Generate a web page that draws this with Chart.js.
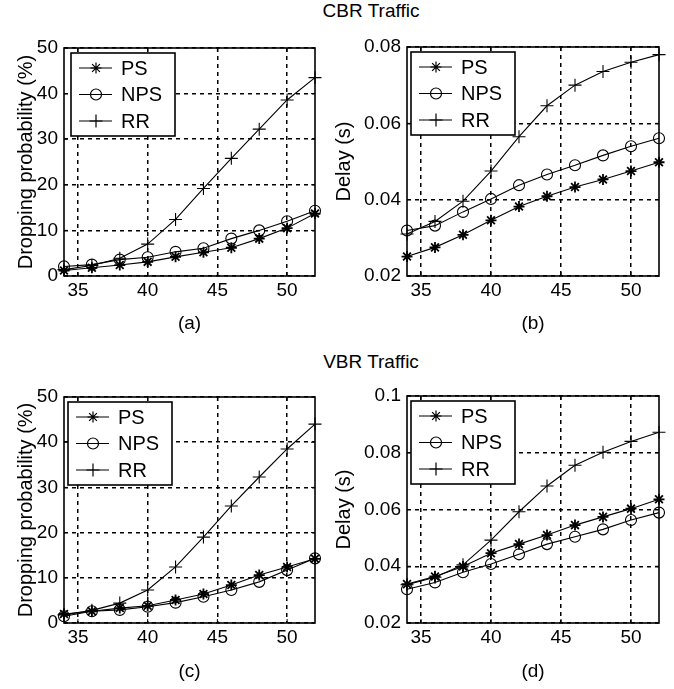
<!DOCTYPE html>
<html>
<head>
<meta charset="utf-8">
<script src="https://cdn.jsdelivr.net/npm/chart.js@4/dist/chart.umd.min.js"></script>
<style>
  body { margin: 0; background: #fff; }
  #wrap { position: relative; width: 674px; height: 689px; overflow: hidden; }
  #wrap canvas { position: absolute; left: 0; top: 0; }
  .group-title {
    position: absolute; left: 271px; width: 200px; text-align: center;
    font: 19px "Liberation Sans", Arial, sans-serif; color: #000;
  }
</style>
</head>
<body>
<div id="wrap">
  <div class="group-title" style="top:0px">CBR Traffic</div>
  <div class="group-title" style="top:351px">VBR Traffic</div>
  <canvas id="chartA" width="674" height="689"></canvas>
  <canvas id="chartB" width="674" height="689"></canvas>
  <canvas id="chartC" width="674" height="689"></canvas>
  <canvas id="chartD" width="674" height="689"></canvas>
</div>
<script>
const xValues = [34, 36, 38, 40, 42, 44, 46, 48, 50, 52];
const xTicks = [35, 40, 45, 50];
const seriesNames = ["PS", "NPS", "RR"];

const dropTicks = [0, 10, 20, 30, 40, 50];
const cbrDelayTicks = [0.02, 0.04, 0.06, 0.08];
const vbrDelayTicks = [0.02, 0.04, 0.06, 0.08, 0.1];

// CBR traffic
const cbrDropPS  = [1.2, 1.8, 2.4, 3.1, 4.2, 5.2, 6.2, 8.2, 10.5, 13.7];
const cbrDropNPS = [2.1, 2.5, 3.6, 4.1, 5.3, 6.1, 8.2, 10.0, 12.0, 14.3];
const cbrDropRR  = [1.4, 2.3, 3.9, 7.0, 12.4, 19.2, 25.8, 32.2, 38.6, 43.5];

const cbrDelayPS  = [0.0251, 0.0275, 0.0308, 0.0346, 0.0382, 0.0409, 0.0433, 0.0453, 0.0475, 0.0498];
const cbrDelayNPS = [0.0319, 0.0332, 0.0368, 0.0402, 0.0438, 0.0466, 0.0490, 0.0516, 0.0540, 0.0561];
const cbrDelayRR  = [0.0310, 0.0343, 0.0396, 0.0475, 0.0565, 0.0646, 0.0700, 0.0736, 0.0760, 0.0780];

// VBR traffic
const vbrDropPS  = [2.0, 2.6, 3.3, 3.8, 5.1, 6.4, 8.4, 10.6, 12.4, 14.2];
const vbrDropNPS = [1.5, 2.6, 2.9, 3.6, 4.5, 5.8, 7.3, 9.1, 11.7, 14.3];
const vbrDropRR  = [1.8, 2.8, 4.4, 7.3, 12.4, 19.0, 25.9, 32.3, 38.5, 44.0];

const vbrDelayPS  = [0.0337, 0.0364, 0.0399, 0.0446, 0.0478, 0.0510, 0.0545, 0.0574, 0.0603, 0.0636];
const vbrDelayNPS = [0.0319, 0.0343, 0.0379, 0.0408, 0.0442, 0.0478, 0.0504, 0.0530, 0.0563, 0.0589];
const vbrDelayRR  = [0.0335, 0.0361, 0.0405, 0.0492, 0.0592, 0.0683, 0.0756, 0.0802, 0.0840, 0.0872];

const FONT = '"Liberation Sans", Arial, sans-serif';
const markerStyles = ["star", "circle", "cross"];
const markerSizes = [5.5, 5.5, 6.5];

// axes box with inward tick marks, like matlab
const axesBox = {
  id: "axesBox",
  afterDatasetsDraw(chart) {
    const { ctx, chartArea: a, scales } = chart;
    ctx.save();
    ctx.strokeStyle = "#000";
    ctx.lineWidth = 1;
    ctx.beginPath();
    scales.x.ticks.forEach(t => {
      const px = scales.x.getPixelForValue(t.value);
      ctx.moveTo(px, a.bottom); ctx.lineTo(px, a.bottom - 4);
      ctx.moveTo(px, a.top); ctx.lineTo(px, a.top + 4);
    });
    scales.y.ticks.forEach(t => {
      const py = scales.y.getPixelForValue(t.value);
      ctx.moveTo(a.left, py); ctx.lineTo(a.left + 4, py);
      ctx.moveTo(a.right, py); ctx.lineTo(a.right - 4, py);
    });
    ctx.stroke();
    ctx.lineWidth = 1.6;
    ctx.strokeRect(a.left, a.top, a.right - a.left, a.bottom - a.top);
    ctx.restore();
  }
};

// legend box drawn inside the upper left corner of the plot
const boxLegend = {
  id: "boxLegend",
  afterDatasetsDraw(chart, args, opts) {
    const { ctx, chartArea: a } = chart;
    const x0 = a.left + opts.dx, y0 = a.top + opts.dy;
    const w = 104, h = 83;
    ctx.save();
    ctx.fillStyle = "#fff";
    ctx.fillRect(x0, y0, w, h);
    ctx.strokeStyle = "#000";
    ctx.lineWidth = 1.6;
    ctx.strokeRect(x0, y0, w, h);
    chart.data.datasets.forEach((ds, i) => {
      const y = y0 + 15 + i * 26.5;
      ctx.lineWidth = 1.2;
      ctx.beginPath();
      ctx.moveTo(x0 + 8, y);
      ctx.lineTo(x0 + 41, y);
      ctx.stroke();
      ctx.fillStyle = "rgba(0,0,0,0)";
      Chart.helpers.drawPoint(ctx, {
        pointStyle: ds.pointStyle,
        radius: ds.pointRadius,
        borderWidth: ds.pointBorderWidth
      }, x0 + 25, y);
      ctx.fillStyle = "#000";
      ctx.font = "20px " + FONT;
      ctx.textBaseline = "middle";
      ctx.fillText(ds.label, x0 + 50, y + 1);
    });
    ctx.restore();
  }
};

function makePanel(id, series, yTicks, yTitle, xTitle, box, legendPos) {
  const datasets = series.map((values, i) => ({
    label: seriesNames[i],
    data: xValues.map((x, j) => ({ x: x, y: values[j] })),
    borderColor: "#000",
    borderWidth: 1.1,
    backgroundColor: "rgba(0,0,0,0)",
    pointStyle: markerStyles[i],
    pointRadius: markerSizes[i],
    pointBorderWidth: i === 0 ? 1.8 : 1.1,
    pointBorderColor: "#000",
    pointBackgroundColor: "rgba(0,0,0,0)",
    tension: 0,
    fill: false,
    clip: false
  }));

  return new Chart(document.getElementById(id), {
    type: "line",
    data: { datasets: datasets },
    options: {
      responsive: false,
      animation: false,
      events: [],
      layout: {
        padding: { left: box.pl, top: box.top, right: 674 - box.right, bottom: 689 - box.bottom - 60 }
      },
      plugins: {
        legend: { display: false },
        tooltip: { enabled: false },
        boxLegend: legendPos
      },
      scales: {
        x: {
          type: "linear",
          min: xValues[0],
          max: xValues[xValues.length - 1],
          afterBuildTicks: s => { s.ticks = xTicks.map(v => ({ value: v })); },
          afterFit: s => { s.height = 60; },
          ticks: { color: "#000", font: { family: FONT, size: 19 }, padding: 3, maxRotation: 0 },
          grid: { color: "#000", lineWidth: 1.5, drawTicks: false },
          border: { display: false, dash: [4, 4] },
          title: { display: true, text: xTitle, color: "#000", font: { family: FONT, size: 19 }, padding: { top: 0, bottom: box.xtPad } }
        },
        y: {
          min: yTicks[0],
          max: yTicks[yTicks.length - 1],
          afterBuildTicks: s => { s.ticks = yTicks.map(v => ({ value: v })); },
          afterFit: s => { s.width = box.left - box.pl; },
          ticks: { color: "#000", font: { family: FONT, size: 19 }, padding: 6, callback: v => String(v) },
          grid: { color: "#000", lineWidth: 1.5, drawTicks: false },
          border: { display: false, dash: [4, 4] },
          title: { display: true, text: yTitle, color: "#000", font: { family: FONT, size: 20 }, padding: { top: box.ytPad, bottom: 0 } }
        }
      }
    },
    plugins: [axesBox, boxLegend]
  });
}

makePanel("chartA", [cbrDropPS, cbrDropNPS, cbrDropRR], dropTicks,
  "Dropping probability (%)", "(a)",
  { pl: 6, left: 64, top: 48, right: 315, bottom: 276, ytPad: 8, xtPad: 1 }, { dx: 7, dy: 5 });

makePanel("chartB", [cbrDelayPS, cbrDelayNPS, cbrDelayRR], cbrDelayTicks,
  "Delay (s)", "(b)",
  { pl: 326, left: 407, top: 47, right: 659, bottom: 276, ytPad: 6, xtPad: 1 }, { dx: 4, dy: 5 });

makePanel("chartC", [vbrDropPS, vbrDropNPS, vbrDropRR], dropTicks,
  "Dropping probability (%)", "(c)",
  { pl: 6, left: 64, top: 397, right: 315, bottom: 623, ytPad: 8, xtPad: 0 }, { dx: 4, dy: 5 });

makePanel("chartD", [vbrDelayPS, vbrDelayNPS, vbrDelayRR], vbrDelayTicks,
  "Delay (s)", "(d)",
  { pl: 326, left: 407, top: 396, right: 659, bottom: 623, ytPad: 6, xtPad: 0 }, { dx: 4, dy: 5 });
</script>
</body>
</html>
